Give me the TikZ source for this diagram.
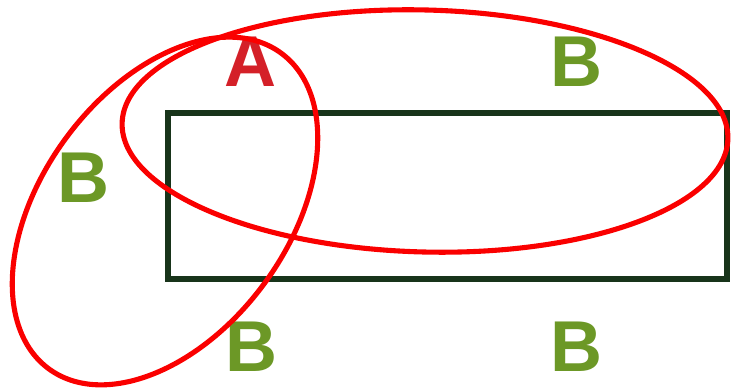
\documentclass[tikz,border=0pt]{standalone}
\usepackage{fontspec}
\setmainfont{Liberation Sans}
\usepackage{tikz}
\usetikzlibrary{positioning}
\definecolor{setred}{RGB}{250,0,0}
\definecolor{letterA}{RGB}{212,32,40}
\definecolor{letterB}{RGB}{108,152,38}
\definecolor{boxgreen}{RGB}{24,52,26}
\tikzset{
  lbl/.style  = {inner sep=0pt, font=\fontsize{41}{41}\selectfont\bfseries},
  ring/.style = {draw=setred, line width=2.9pt},
  frame/.style= {draw=boxgreen, line width=3.4pt}
}

\begin{document}
\begin{tikzpicture}[x=0.02cm, y=0.02cm]
\useasboundingbox (0,0) rectangle (731,388);

% the box
\draw[frame] (168,109) rectangle (727,275);

% letters
\node[lbl, text=letterA] (a)  at (251,326) {A};
\node[lbl, text=letterB] (b1) at (577,326) {B};
\node[lbl, text=letterB] (b2) at (84,210)  {B};
\node[lbl, text=letterB] (b3) at (252,41)  {B};
\node[lbl, text=letterB] (b4) at (577,41)  {B};

% the two rings
\draw[ring] (425,257) ellipse [x radius=303, y radius=121, rotate=-1.5];
\draw[ring] (165,177) ellipse [x radius=196, y radius=123, rotate=53.6];

\end{tikzpicture}
\end{document}
